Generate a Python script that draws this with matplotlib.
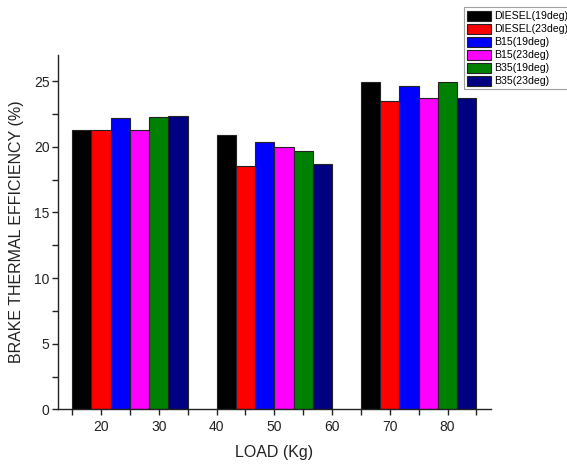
import numpy as np
import matplotlib
matplotlib.use('Agg')
import matplotlib.pyplot as plt
from matplotlib.ticker import MultipleLocator

plt.rcParams['font.family'] = ['Liberation Sans', 'DejaVu Sans']

# group centres on the LOAD axis
group_centers = [25, 50, 75]
series_names = ['DIESEL(19deg)', 'DIESEL(23deg)', 'B15(19deg)',
                'B15(23deg)', 'B35(19deg)', 'B35(23deg)']
diesel_19 = [21.32, 20.88, 24.95]
diesel_23 = [21.30, 18.56, 23.50]
b15_19 = [22.20, 20.41, 24.66]
b15_23 = [21.25, 19.98, 23.73]
b35_19 = [22.28, 19.65, 24.94]
b35_23 = [22.34, 18.73, 23.69]
series_values = [diesel_19, diesel_23, b15_19, b15_23, b35_19, b35_23]
colors = ['#000000', '#FF0000', '#0000FF', '#FF00FF', '#008000', '#000080']

fig = plt.figure(figsize=(5.67, 4.68), dpi=100)
ax = fig.add_axes([0.1018, 0.1254, 0.764, 0.757])

bar_w = 10 / 3
n = len(series_names)
for i, (name, vals, c) in enumerate(zip(series_names, series_values, colors)):
    x = np.array(group_centers) + (i - (n - 1) / 2) * bar_w
    ax.bar(x, vals, width=bar_w, color=c, edgecolor='#222222',
           linewidth=0.8, label=name)

ax.set_xlim(12.5, 87.5)
ax.set_ylim(0, 27)
ax.xaxis.set_major_locator(MultipleLocator(10))
ax.xaxis.set_minor_locator(MultipleLocator(5))
ax.yaxis.set_major_locator(MultipleLocator(5))
ax.yaxis.set_minor_locator(MultipleLocator(2.5))
ax.set_xticks(range(20, 81, 10))
ax.tick_params(which='both', direction='out', length=4, width=1,
               labelsize=10, colors='#222222')
ax.tick_params(axis='y', pad=2)

for s in ['top', 'right']:
    ax.spines[s].set_visible(False)
for s in ['left', 'bottom']:
    ax.spines[s].set_linewidth(1)
    ax.spines[s].set_color('#222222')

ax.set_xlabel('LOAD (Kg)', fontsize=11.5, color='#222222', labelpad=8)
ax.set_ylabel('BRAKE THERMAL EFFICIENCY (%)', fontsize=11.5,
              color='#222222', labelpad=7)

leg = fig.legend(loc='upper left', bbox_to_anchor=(0.818, 0.984),
                 fontsize=7.6, frameon=True, fancybox=False,
                 handlelength=2.3, handleheight=1.1, handletextpad=0.25,
                 labelspacing=0.22, borderpad=0.3, borderaxespad=0)
leg.get_frame().set_edgecolor('#888888')
leg.get_frame().set_linewidth(0.8)

plt.savefig('out.png', dpi=100)
